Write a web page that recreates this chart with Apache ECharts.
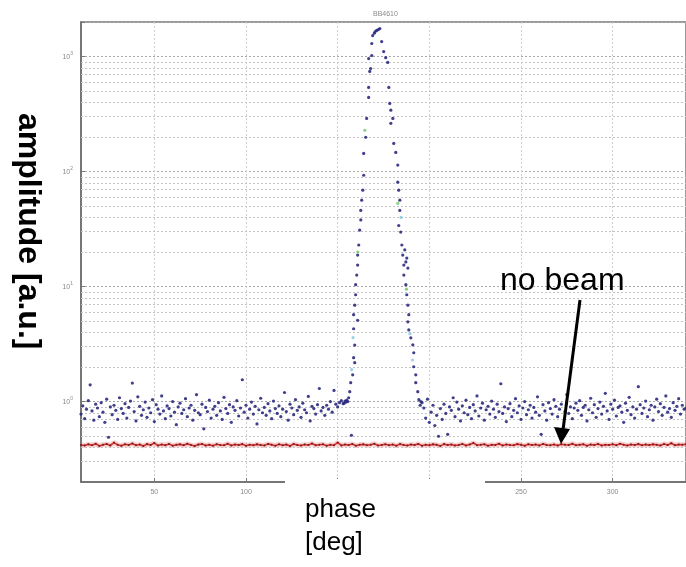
<!DOCTYPE html>
<html>
<head>
<meta charset="utf-8">
<script src="https://cdn.jsdelivr.net/npm/echarts@6/dist/echarts.min.js"></script>
<style>
  html, body { margin: 0; padding: 0; background: #fff; }
  #chart { width: 686px; height: 567px; }
</style>
</head>
<body>
<div id="chart"></div>
<script>
// Phase scan of the pickup amplitude (log scale), sampled once per degree
// outside the peak and twice per degree across it.
const LEFT_START = 10;   // first phase of the left baseline, deg
const RIGHT_START = 196; // first phase of the right baseline, deg
const RED_START = 10;    // first phase of the no-beam trace, deg
const RED_STEP = 2;      // spacing of the no-beam trace, deg

const beamLeft = [
  0.78, 0.92, 0.71, 0.86, 1.02, 1.40, 0.83, 0.69, 0.95, 0.88, 0.74, 0.98,
  0.81, 0.66, 1.05, 0.49, 0.90, 0.77, 0.93, 0.84, 0.70, 1.08, 0.87, 0.79,
  0.96, 0.72, 0.89, 1.01, 1.45, 0.82, 0.68, 1.10, 0.91, 0.76, 0.85, 0.99,
  0.73, 0.88, 0.80, 1.04, 0.67, 0.94, 0.86, 0.78, 1.12, 0.83, 0.71, 0.92,
  0.87, 0.75, 1.00, 0.81, 0.63, 0.90, 0.97, 0.79, 0.85, 1.06, 0.74, 0.88,
  0.93, 0.69, 0.84, 1.15, 0.80, 0.77, 0.95, 0.58, 0.89, 0.82, 1.03, 0.72,
  0.86, 0.91, 0.76, 0.98, 0.83, 0.70, 1.09, 0.87, 0.79, 0.94, 0.66, 0.90,
  0.84, 1.02, 0.75, 0.88, 1.55, 0.81, 0.93, 0.72, 0.86, 0.99, 0.78, 0.91,
  0.64, 0.85, 1.07, 0.80, 0.89, 0.76, 0.96, 0.83, 0.71, 1.01, 0.87, 0.79,
  0.92, 0.74, 0.86, 1.20, 0.82, 0.69, 0.95, 0.88, 0.77, 1.04, 0.84, 0.90,
  0.73, 0.97, 0.85, 0.80, 1.11, 0.68, 0.91, 0.87, 0.78, 0.94, 1.30, 0.83,
  0.89, 0.76, 0.93, 0.86, 1.00, 0.81, 1.25, 0.95, 0.90, 0.98, 1.02, 0.96
];

// [phase, amplitude] across the peak
const beamPeak = [
  [153.5, 0.97], [154.0, 1.01], [154.5, 0.99], [155.0, 1.03], [155.5, 1.00],
  [156.0, 1.08], [156.6, 1.22], [157.1, 1.46], [157.5, 0.51], [158.2, 1.71],
  [159.3, 2.18], [158.7, 2.41], [159.3, 3.1], [158.7, 4.3], [160.9, 5.1],
  [158.7, 5.7], [159.3, 6.9], [159.8, 8.5], [159.8, 10.4], [160.4, 12.6],
  [160.9, 15.4], [160.9, 18.8], [161.5, 23], [162.0, 31], [162.6, 38],
  [162.6, 46], [163.1, 56.5], [163.7, 69], [164.2, 93], [164.2, 144],
  [165.3, 199], [165.8, 290], [166.9, 442], [166.9, 540], [167.5, 743],
  [168.0, 788], [166.9, 962], [168.6, 1023], [168.6, 1300], [169.1, 1524],
  [170.0, 1600], [170.5, 1650], [171.3, 1690], [172.2, 1720], [173.0, 1753],
  [174.0, 1352], [175.1, 1107], [176.2, 980], [177.3, 890], [177.9, 540],
  [178.4, 392], [179.0, 342], [180.1, 290], [179.0, 263], [180.6, 176],
  [181.7, 147], [182.8, 114], [182.8, 81], [183.3, 69], [183.9, 56.5],
  [183.9, 46], [183.3, 34], [184.4, 29.8], [185.0, 23], [186.6, 20.9],
  [185.5, 18.8], [187.7, 17.7], [187.2, 16.4], [186.1, 15.4], [188.3, 14.5],
  [186.1, 12.6], [187.2, 10.4], [187.7, 8.5], [188.3, 6.9], [188.8, 5.7],
  [188.3, 4.94], [188.8, 4.2], [189.9, 3.59], [191.0, 3.12], [191.5, 2.66],
  [191.5, 2.01], [192.6, 1.71], [192.6, 1.46], [193.7, 1.22], [194.3, 1.04],
  [195.0, 0.93], [195.4, 1.0]
];

// a few differently coloured samples on the flanks
const beamGreen = [[164.8, 229], [182.8, 53], [161.0, 20], [187.5, 9.5]];
const beamCyan = [[158.4, 3.6], [189.4, 3.9], [157.6, 1.9], [190.8, 2.3], [184.6, 40]];

const beamRight = [
  0.98, 0.88, 0.72, 1.05, 0.66, 0.81, 0.93, 0.62, 0.76, 0.50, 0.87, 0.70,
  0.95, 0.79, 0.52, 0.90, 0.84, 1.08, 0.74, 0.99, 0.86, 0.68, 0.92, 0.80,
  1.03, 0.77, 0.89, 0.71, 0.94, 0.83, 1.12, 0.75, 0.88, 0.97, 0.69, 0.85,
  0.91, 0.78, 1.01, 0.86, 0.73, 0.95, 0.82, 1.43, 0.79, 0.90, 0.67, 0.87,
  0.96, 0.74, 0.84, 1.06, 0.80, 0.92, 0.70, 0.88, 1.00, 0.77, 0.85, 0.93,
  0.72, 0.89, 0.81, 1.10, 0.76, 0.52, 0.94, 0.83, 0.69, 0.98, 0.87, 0.78,
  1.04, 0.91, 0.74, 0.86, 0.95, 0.55, 0.82, 1.15, 0.79, 0.90, 0.71, 0.88,
  0.97, 0.84, 1.02, 0.76, 0.89, 0.93, 0.68, 0.85, 1.07, 0.80, 0.94, 0.73,
  0.87, 0.99, 0.78, 0.91, 1.18, 0.83, 0.70, 0.95, 0.86, 1.03, 0.75, 0.89,
  0.92, 0.81, 0.66, 0.97, 0.84, 1.09, 0.77, 0.90, 0.72, 0.86, 1.35, 0.94,
  0.79, 0.88, 1.01, 0.74, 0.85, 0.93, 0.69, 0.90, 1.05, 0.82, 0.96, 0.76,
  0.89, 1.12, 0.81, 0.87, 0.73, 0.98, 0.84, 0.91, 1.06, 0.78, 0.93, 0.86,
  0.88
];

const noBeam = [
  0.420, 0.415, 0.425, 0.418, 0.430, 0.412, 0.422, 0.428, 0.416, 0.440, 0.421, 0.414,
  0.426, 0.419, 0.432, 0.417, 0.423, 0.411, 0.427, 0.420, 0.436, 0.415, 0.424, 0.418,
  0.429, 0.413, 0.421, 0.425, 0.417, 0.430, 0.419, 0.412, 0.423, 0.428, 0.416, 0.422,
  0.414, 0.426, 0.420, 0.418, 0.431, 0.415, 0.424, 0.419, 0.427, 0.413, 0.421, 0.417,
  0.425, 0.420, 0.416, 0.429, 0.422, 0.414, 0.426, 0.418, 0.423, 0.411, 0.428, 0.420,
  0.415, 0.424, 0.419, 0.433, 0.417, 0.421, 0.426, 0.413, 0.422, 0.418, 0.440, 0.416,
  0.423, 0.419, 0.428, 0.414, 0.421, 0.425, 0.417, 0.422, 0.430, 0.415, 0.420, 0.426,
  0.418, 0.424, 0.413, 0.427, 0.420, 0.416, 0.423, 0.419, 0.429, 0.414, 0.422, 0.418,
  0.425, 0.421, 0.412, 0.427, 0.419, 0.424, 0.416, 0.420, 0.428, 0.415, 0.423, 0.437,
  0.418, 0.421, 0.426, 0.414, 0.422, 0.419, 0.430, 0.416, 0.424, 0.420, 0.417, 0.427,
  0.421, 0.413, 0.425, 0.419, 0.423, 0.416, 0.429, 0.420, 0.418, 0.424, 0.415, 0.426,
  0.422, 0.419, 0.431, 0.417, 0.421, 0.425, 0.414, 0.423, 0.420, 0.428, 0.416, 0.422,
  0.419, 0.426, 0.418, 0.430, 0.421, 0.415, 0.424, 0.420, 0.427, 0.417, 0.423, 0.419,
  0.425, 0.421, 0.416, 0.428, 0.420, 0.435, 0.418, 0.423, 0.421, 0.426
];

const phaseTicks = [50, 100, 150, 200, 250, 300];
const minorLevels = [
  0.3, 0.4, 0.5, 0.6, 0.7, 0.8, 0.9,
  2, 3, 4, 5, 6, 7, 8, 9,
  20, 30, 40, 50, 60, 70, 80, 90,
  200, 300, 400, 500, 600, 700, 800, 900
];

const beamPoints = []
  .concat(beamLeft.map((v, i) => [LEFT_START + i, v]))
  .concat(beamPeak)
  .concat(beamRight.map((v, i) => [RIGHT_START + i, v]));
const noBeamPoints = noBeam.map((v, i) => [RED_START + i * RED_STEP, v]);

const chart = echarts.init(document.getElementById('chart'), null, { renderer: 'canvas' });

const tickFont = { fontFamily: 'Liberation Sans', fontSize: 7, color: '#8a8a8a' };

chart.setOption({
  backgroundColor: '#ffffff',
  animation: false,
  title: {
    text: 'BB4610',
    left: 368,
    top: 6,
    textStyle: { fontFamily: 'Liberation Sans', fontSize: 7, fontWeight: 'normal', color: '#8a8a8a' }
  },
  grid: {
    left: 81, top: 22, right: -3, bottom: 85,
    show: true, borderColor: '#7a7a7a', borderWidth: 1.5
  },
  xAxis: {
    type: 'value', min: 10, max: 340,
    axisLine: { show: true, lineStyle: { color: '#6a6a6a', width: 1.5 } },
    axisTick: { show: true, inside: true, length: 4, customValues: phaseTicks, lineStyle: { color: '#777' } },
    axisLabel: Object.assign({ customValues: phaseTicks, margin: 7 }, tickFont),
    splitLine: { show: true, lineStyle: { color: '#cfcfcf', type: [2, 2], width: 1 } }
  },
  yAxis: {
    type: 'log', logBase: 10, min: 0.2, max: 2000,
    axisLine: { show: true, lineStyle: { color: '#6a6a6a', width: 1.5 } },
    axisTick: { show: true, inside: true, length: 4, lineStyle: { color: '#777' } },
    axisLabel: Object.assign({
      margin: 8,
      formatter: function (v) {
        const e = Math.log10(v);
        const r = Math.round(e);
        if (Math.abs(e - r) > 1e-6) return '';
        return '10{s|' + r + '}';
      },
      rich: { s: { fontFamily: 'Liberation Sans', fontSize: 5, color: '#8a8a8a', verticalAlign: 'top', padding: [0, 0, 5, 0] } }
    }, tickFont),
    splitLine: { show: true, lineStyle: { color: '#a8a8a8', type: [2, 2], width: 1 } }
  },
  series: [
    {
      // minor grid of the log axis
      type: 'scatter', data: [], silent: true,
      markLine: {
        silent: true, symbol: 'none', animation: false,
        label: { show: false },
        lineStyle: { color: '#c4c4c4', type: [2, 2], width: 1 },
        data: minorLevels.map(v => ({ yAxis: v }))
      }
    },
    {
      type: 'line', data: noBeamPoints, showSymbol: false, silent: true, z: 3,
      lineStyle: { color: 'rgba(235,120,120,0.35)', width: 5 }
    },
    {
      type: 'line', data: noBeamPoints, z: 4,
      symbol: 'circle', symbolSize: 2, showSymbol: true,
      itemStyle: { color: '#6b2020' },
      lineStyle: { color: '#dd2a2a', width: 1.6 }
    },
    {
      type: 'scatter', data: beamPoints, z: 5,
      symbol: 'circle', symbolSize: 3.2,
      itemStyle: { color: '#2a2a7e', opacity: 0.9 }
    },
    {
      type: 'scatter', data: beamGreen, z: 6,
      symbol: 'circle', symbolSize: 3.2,
      itemStyle: { color: '#6cc46c' }
    },
    {
      type: 'scatter', data: beamCyan, z: 6,
      symbol: 'circle', symbolSize: 3.2,
      itemStyle: { color: '#7fc8dc' }
    }
  ],
  graphic: [
    {
      type: 'rect', z: 100,
      shape: { x: 285, y: 479, width: 200, height: 88 },
      style: { fill: '#ffffff' }
    },
    {
      type: 'text', z: 101, x: 305, y: 497,
      style: { text: 'phase', font: '26px "Liberation Sans"', fill: '#000' }
    },
    {
      type: 'text', z: 101, x: 305, y: 530,
      style: { text: '[deg]', font: '26px "Liberation Sans"', fill: '#000' }
    },
    {
      type: 'text', z: 101, x: 500, y: 265,
      style: { text: 'no beam', font: '32px "Liberation Sans"', fill: '#000' }
    },
    {
      type: 'text', z: 101, x: 44, y: 113, rotation: -Math.PI / 2,
      style: { text: 'amplitude [a.u.]', font: 'bold 32px "Liberation Sans"', fill: '#000' }
    },
    {
      type: 'line', z: 101,
      shape: { x1: 580, y1: 300, x2: 563, y2: 430 },
      style: { stroke: '#000', lineWidth: 3 }
    },
    {
      type: 'polygon', z: 101,
      shape: { points: [[561, 444], [554, 427], [570, 429]] },
      style: { fill: '#000' }
    }
  ]
});
</script>
</body>
</html>
